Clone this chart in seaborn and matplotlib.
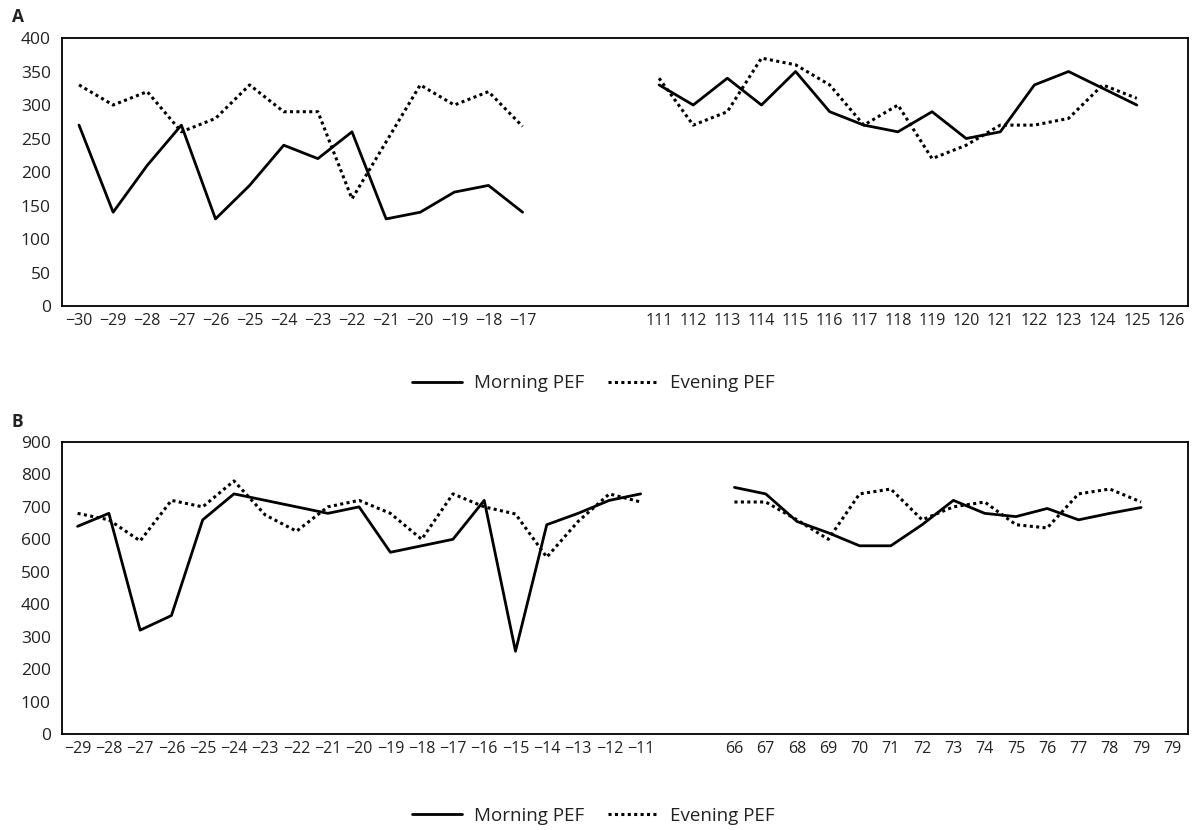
import numpy as np
import pandas as pd
import seaborn as sns
import matplotlib.pyplot as plt

# ---- panel A ----
a_days_1 = [-30, -29, -28, -27, -26, -25, -24, -23, -22, -21, -20, -19, -18, -17]
a_morning_1 = [270, 140, 210, 270, 130, 180, 240, 220, 260, 130, 140, 170, 180, 140]
a_evening_1 = [330, 300, 320, 260, 280, 330, 290, 290, 160, 245, 330, 300, 320, 268]
a_days_2 = [111, 112, 113, 114, 115, 116, 117, 118, 119, 120, 121, 122, 123, 124, 125]
a_morning_2 = [330, 300, 340, 300, 350, 290, 270, 260, 290, 250, 260, 330, 350, 325, 300]
a_evening_2 = [340, 270, 290, 370, 360, 330, 270, 300, 220, 240, 270, 270, 280, 330, 310]
a_labels = ['−30', '−29', '−28', '−27', '−26', '−25', '−24', '−23', '−22', '−21',
            '−20', '−19', '−18', '−17', '', '', '',
            '111', '112', '113', '114', '115', '116', '117', '118', '119', '120',
            '121', '122', '123', '124', '125', '126']

# ---- panel B ----
b_days_1 = [-29, -28, -27, -26, -25, -24, -23, -22, -21, -20, -19, -18, -17, -16,
            -15, -14, -13, -12, -11]
b_morning_1 = [640, 680, 320, 365, 660, 740, 720, 700, 680, 700, 560, 580, 600, 720,
               255, 645, 680, 720, 740]
b_evening_1 = [680, 660, 595, 720, 700, 780, 675, 625, 700, 720, 680, 600, 740, 700,
               678, 545, 655, 740, 715]
b_days_2 = [66, 67, 68, 69, 70, 71, 72, 73, 74, 75, 76, 77, 78, 79]
b_morning_2 = [760, 740, 655, 620, 580, 580, 645, 720, 680, 670, 695, 660, 680, 698]
b_evening_2 = [715, 715, 660, 600, 740, 755, 660, 700, 715, 645, 635, 740, 755, 715]
b_labels = ['−29', '−28', '−27', '−26', '−25', '−24', '−23', '−22', '−21', '−20',
            '−19', '−18', '−17', '−16', '−15', '−14', '−13', '−12', '−11', '', '',
            '66', '67', '68', '69', '70', '71', '72', '73', '74', '75', '76', '77',
            '78', '79', '79']


def category_positions(labels, days):
    """position of each day inside the category axis"""
    lookup = {}
    for i, lab in enumerate(labels):
        if lab != '' and lab.replace('−', '-') not in lookup:
            lookup[lab.replace('−', '-')] = i
    return [lookup[str(d)] for d in days]


def draw_panel(ax, labels, segments, ymax, ystep):
    for days, morning, evening in segments:
        pos = category_positions(labels, days)
        df = pd.DataFrame({'pos': pos, 'Morning PEF': morning, 'Evening PEF': evening})
        sns.lineplot(data=df, x='pos', y='Morning PEF', ax=ax, color='black',
                     linewidth=2.0, label='Morning PEF')
        sns.lineplot(data=df, x='pos', y='Evening PEF', ax=ax, color='black',
                     linewidth=2.2, linestyle=(0, (1, 1.1)), label='Evening PEF')
    n = len(labels)
    ax.set_xlim(-0.5, n - 0.5)
    ax.set_ylim(0, ymax)
    ax.set_xticks(np.arange(n + 1) - 0.5)
    ax.set_xticklabels([])
    ax.set_xticks(np.arange(n), minor=True)
    ax.set_xticklabels(labels, minor=True, fontsize=11.5)
    ax.tick_params(axis='x', which='major', length=6, width=1.2, direction='out', color='black')
    ax.tick_params(axis='x', which='minor', length=0, pad=5)
    ax.set_yticks(np.arange(0, ymax + 1, ystep))
    ax.tick_params(axis='y', length=5, width=1.2, direction='out', labelsize=12.5, pad=3,
                   color='black')
    ax.set_xlabel('')
    ax.set_ylabel('')
    for s in ax.spines.values():
        s.set_visible(True)
        s.set_color('black')
        s.set_linewidth(1.3)
    ax.get_legend().remove()


sns.set_style('white')
plt.rcParams['font.family'] = ['Open Sans', 'DejaVu Sans']
plt.rcParams['text.color'] = '#222222'
plt.rcParams['xtick.color'] = 'black'
plt.rcParams['ytick.color'] = 'black'

fig = plt.figure(figsize=(11.96, 8.30), dpi=100)
ax_a = fig.add_axes([0.0518, 0.6313, 0.9415, 0.3229])
ax_b = fig.add_axes([0.0518, 0.1157, 0.9415, 0.3518])

draw_panel(ax_a, a_labels, [(a_days_1, a_morning_1, a_evening_1),
                            (a_days_2, a_morning_2, a_evening_2)], 400, 50)
draw_panel(ax_b, b_labels, [(b_days_1, b_morning_1, b_evening_1),
                            (b_days_2, b_morning_2, b_evening_2)], 900, 100)

for ax in (ax_a, ax_b):
    for lab in ax.get_xticklabels(minor=True) + ax.get_yticklabels():
        lab.set_color('#222222')

fig.text(0.010, 0.979, 'A', fontsize=12.5, fontweight='bold', va='center', ha='left')
fig.text(0.010, 0.491, 'B', fontsize=12.5, fontweight='bold', va='center', ha='left')

handles, names = ax_a.get_legend_handles_labels()
for y in (0.538, 0.017):
    fig.legend(handles[:2], names[:2], loc='center', bbox_to_anchor=(0.496, y), ncol=2,
               frameon=False, fontsize=13.5, handlelength=2.7, columnspacing=1.3,
               handletextpad=0.6, borderpad=0.2)

fig.savefig('out.png', dpi=100)
